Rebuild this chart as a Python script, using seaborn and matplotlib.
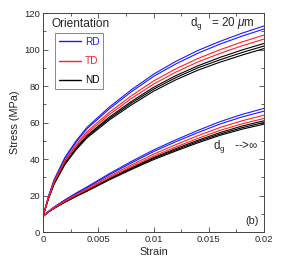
import pandas as pd
import matplotlib
matplotlib.use("Agg")
import matplotlib.pyplot as plt
import seaborn as sns
from matplotlib.ticker import MultipleLocator, FixedFormatter, FixedLocator

# strain points (first two points: elastic jump at zero strain)
STRAIN = [0, 0, 0.00025, 0.0005, 0.001, 0.002, 0.003, 0.004, 0.006,
          0.008, 0.010, 0.012, 0.014, 0.016, 0.018, 0.020]

# d_g = 20 um
RD_20_A = [0, 8.5, 14.0, 19.5, 28.5, 41.0, 50.0, 57.5, 68.5, 78.0, 86.5, 93.5, 99.5, 104.5, 109.0, 113.0]
RD_20_B = [0, 8.5, 13.9, 19.3, 28.2, 40.5, 49.3, 56.7, 67.5, 76.9, 85.3, 92.1, 98.0, 103.0, 107.4, 111.3]
TD_20_A = [0, 8.5, 13.7, 19.0, 27.5, 39.4, 48.0, 55.1, 65.6, 74.7, 82.8, 89.4, 95.1, 99.9, 104.2, 108.0]
TD_20_B = [0, 8.5, 13.6, 18.7, 27.1, 38.8, 47.1, 54.1, 64.4, 73.2, 81.1, 87.6, 93.2, 97.9, 102.1, 105.8]
ND_20_A = [0, 8.5, 13.5, 18.5, 26.7, 38.0, 46.2, 53.0, 63.0, 71.6, 79.3, 85.7, 91.1, 95.7, 99.8, 103.4]
ND_20_B = [0, 8.5, 13.4, 18.3, 26.4, 37.6, 45.6, 52.4, 62.2, 70.7, 78.3, 84.6, 90.0, 94.4, 98.4, 102.0]
ND_20_C = [0, 8.5, 13.3, 18.2, 26.1, 37.1, 45.1, 51.7, 61.4, 69.7, 77.2, 83.4, 88.7, 93.1, 97.0, 100.6]

# d_g -> infinity
RD_INF_A = [0, 8.5, 10.0, 11.4, 13.7, 17.7, 21.4, 24.8, 32.0, 38.7, 45.0, 50.5, 55.7, 60.5, 64.5, 67.8]
RD_INF_B = [0, 8.5, 10.0, 11.3, 13.6, 17.5, 21.1, 24.4, 31.4, 37.9, 44.1, 49.5, 54.5, 59.2, 63.1, 66.3]
TD_INF_A = [0, 8.5, 9.9, 11.2, 13.4, 17.1, 20.6, 23.8, 30.5, 36.8, 42.7, 47.9, 52.8, 57.3, 61.0, 64.1]
TD_INF_B = [0, 8.5, 9.9, 11.1, 13.2, 16.8, 20.2, 23.3, 29.8, 35.9, 41.6, 46.6, 51.3, 55.7, 59.3, 62.3]
ND_INF_A = [0, 8.5, 9.8, 11.1, 13.1, 16.6, 19.9, 22.9, 29.3, 35.2, 40.8, 45.7, 50.3, 54.5, 58.1, 61.0]
ND_INF_B = [0, 8.5, 9.8, 11.0, 13.0, 16.5, 19.7, 22.7, 29.0, 34.8, 40.3, 45.0, 49.6, 53.7, 57.2, 60.1]
ND_INF_C = [0, 8.5, 9.8, 11.0, 13.0, 16.4, 19.5, 22.4, 28.6, 34.3, 39.7, 44.4, 48.9, 53.0, 56.4, 59.2]

CURVES = {
    "RD": [RD_20_A, RD_20_B, RD_INF_A, RD_INF_B],
    "TD": [TD_20_A, TD_20_B, TD_INF_A, TD_INF_B],
    "ND": [ND_20_A, ND_20_B, ND_20_C, ND_INF_A, ND_INF_B, ND_INF_C],
}
COLORS = {"RD": "#1a1aff", "TD": "#ff2020", "ND": "#000000"}
X_TICKS = [0, 0.005, 0.01, 0.015, 0.02]
X_TICK_LABELS = ["0", "0.005", "0.01", "0.015", "0.02"]

rows = []
for orient, curves in CURVES.items():
    for i, ys in enumerate(curves):
        for x, y in zip(STRAIN, ys):
            rows.append({"strain": x, "stress": y, "orientation": orient, "curve": i})
df = pd.DataFrame(rows)

sns.set_style("ticks")
plt.rcParams["font.family"] = ["Liberation Sans", "DejaVu Sans"]
plt.rcParams["mathtext.fontset"] = "custom"
plt.rcParams["mathtext.rm"] = "Liberation Sans"
plt.rcParams["mathtext.it"] = "Liberation Sans:italic"

fig = plt.figure(figsize=(2.84, 2.68), dpi=100)
ax = fig.add_axes([0.151, 0.134, 0.779, 0.817])

handles = {}
for orient in ["ND", "RD", "TD"]:
    sub = df[df["orientation"] == orient]
    sns.lineplot(data=sub, x="strain", y="stress", units="curve", estimator=None,
                 sort=False, color=COLORS[orient], lw=0.8, ax=ax, legend=False)
    handles[orient] = plt.Line2D([], [], color=COLORS[orient], lw=1.0)

ax.set_xlim(0, 0.02)
ax.set_ylim(0, 120)
ax.xaxis.set_major_locator(FixedLocator(X_TICKS))
ax.xaxis.set_major_formatter(FixedFormatter(X_TICK_LABELS))
ax.xaxis.set_minor_locator(MultipleLocator(0.0025))
ax.yaxis.set_major_locator(MultipleLocator(20))
ax.yaxis.set_minor_locator(MultipleLocator(10))
ax.tick_params(which="both", direction="in", top=True, right=True,
               labelsize=6.8, width=0.6, color="#444444", pad=2)
ax.tick_params(which="major", length=3.5)
ax.tick_params(which="minor", length=2)
for s in ax.spines.values():
    s.set_linewidth(0.7)
    s.set_color("#444444")

ax.set_xlabel("Strain", fontsize=7.8, labelpad=2)
ax.set_ylabel("Stress (MPa)", fontsize=7.8, labelpad=3)

ax.text(0.039, 0.935, "Orientation", transform=ax.transAxes, fontsize=8.6,
        ha="left", va="baseline")
leg = ax.legend([handles[k] for k in ["RD", "TD", "ND"]], ["RD", "TD", "ND"],
                loc="upper left", bbox_to_anchor=(0.054, 0.91), borderaxespad=0,
                fontsize=7.2, labelcolor="linecolor", handlelength=2.25,
                handletextpad=0.35, labelspacing=0.92, borderpad=0.4,
                fancybox=False, edgecolor="#888888", framealpha=1)
leg.get_frame().set_linewidth(0.7)

ax.text(0.665, 0.94, r"d$_\mathregular{g}$" + "   = 20 " + r"$\mathit{\mu}$m",
        transform=ax.transAxes, fontsize=8.4, ha="left", va="baseline")
ax.text(0.768, 0.378, r"d$_\mathregular{g}$" + "   -->" + "\u221e",
        transform=ax.transAxes, fontsize=8.4, ha="left", va="baseline")
ax.text(0.975, 0.03, "(b)", transform=ax.transAxes, fontsize=7.8,
        ha="right", va="bottom")

fig.savefig("out.png", dpi=100)
